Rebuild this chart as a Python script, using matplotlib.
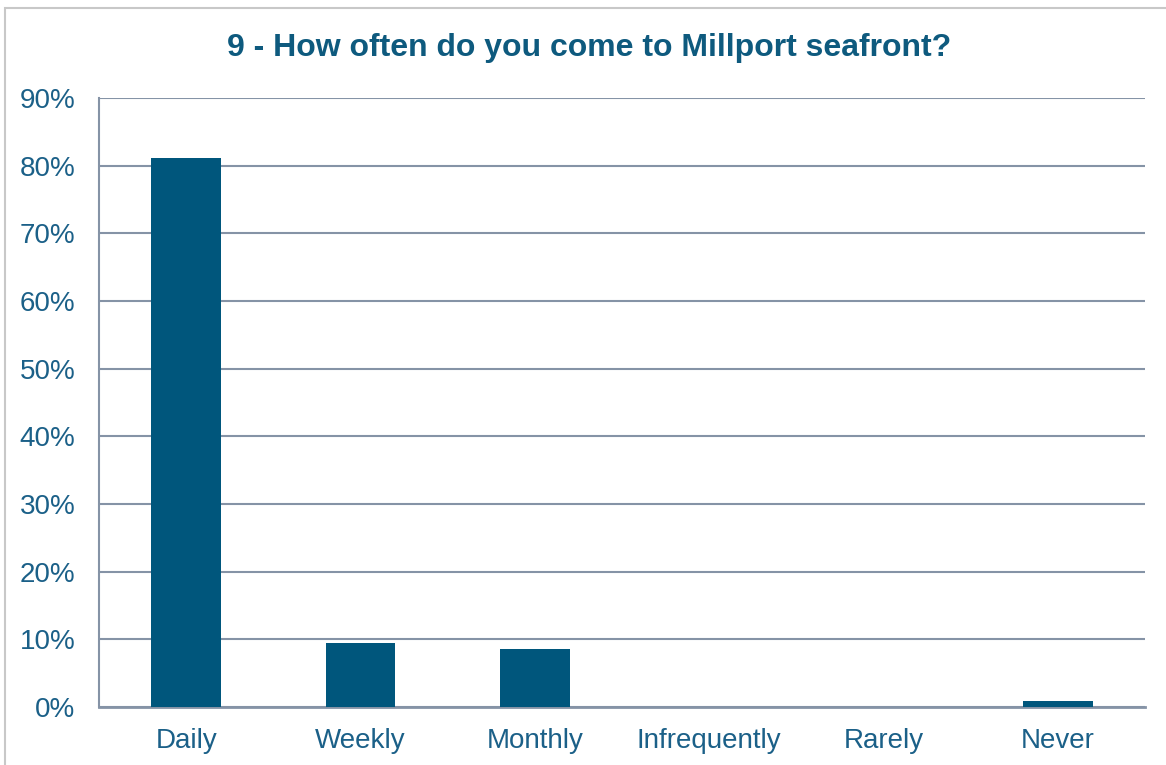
import matplotlib
matplotlib.use("Agg")
import matplotlib.pyplot as plt
from matplotlib.patches import Rectangle

# data
categories = ["Daily", "Weekly", "Monthly", "Infrequently", "Rarely", "Never"]
values = [81.1, 9.4, 8.6, 0.0, 0.0, 0.9]
yticks = [0, 10, 20, 30, 40, 50, 60, 70, 80, 90]
ytick_labels = [f"{t}%" for t in yticks]

bar_color = "#00567C"
text_color = "#1B6088"
grid_color = "#8593A6"

plt.rcParams["font.family"] = ["Liberation Sans", "DejaVu Sans"]

fig = plt.figure(figsize=(11.66, 7.65), dpi=100)
fig.patches.append(Rectangle((5 / 1166, -0.1), 1.2, 1 - 8 / 765 + 0.1,
                             transform=fig.transFigure, fill=False,
                             edgecolor="#C8C8C8", linewidth=1.5))

ax = fig.add_axes([99 / 1166, 1 - 707 / 765, (1145 - 99) / 1166, (707 - 98) / 765])
x = range(len(categories))
ax.bar(x, values, width=0.4, color=bar_color, zorder=3)

ax.set_xlim(-0.5, len(categories) - 0.5)
ax.set_ylim(0, 90)
ax.set_yticks(yticks)
ax.set_yticklabels(ytick_labels)
ax.set_xticks(list(x))
ax.set_xticklabels(categories)
ax.yaxis.grid(True, color=grid_color, linewidth=1.5, zorder=0)
ax.tick_params(axis="both", length=0, labelsize=20, labelcolor=text_color)
ax.tick_params(axis="y", pad=17)
ax.tick_params(axis="x", pad=15)
for s in ["top", "right"]:
    ax.spines[s].set_visible(False)
ax.spines["left"].set_color(grid_color)
ax.spines["bottom"].set_color(grid_color)
ax.spines["left"].set_linewidth(1.5)
ax.spines["bottom"].set_linewidth(2)

fig.text(589 / 1166, 1 - 48 / 765, "9 - How often do you come to Millport seafront?",
         ha="center", va="center", fontsize=23, fontweight="bold", color="#0E5A7E")

fig.savefig("out.png", dpi=100)
